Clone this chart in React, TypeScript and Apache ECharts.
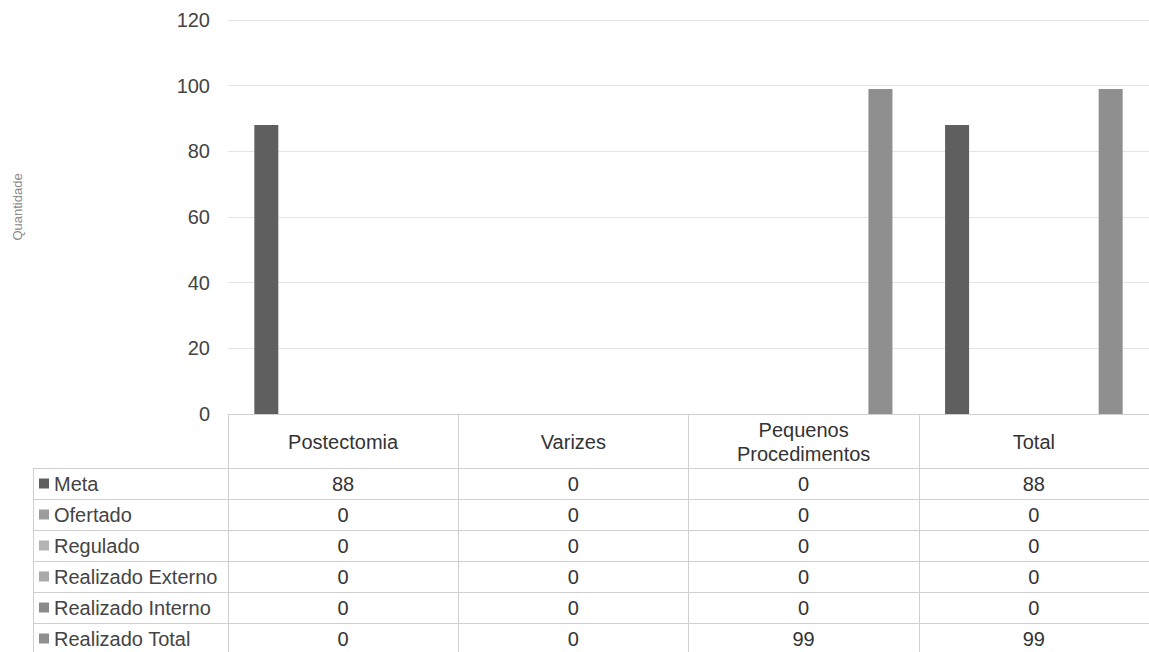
import React, { useEffect, useRef } from "react";
import * as echarts from "echarts";

const categories = ["Postectomia", "Varizes", "Pequenos\nProcedimentos", "Total"];
const seriesNames = ["Meta", "Ofertado", "Regulado", "Realizado Externo", "Realizado Interno", "Realizado Total"];
const meta = [88, 0, 0, 88];
const ofertado = [0, 0, 0, 0];
const regulado = [0, 0, 0, 0];
const realizadoExterno = [0, 0, 0, 0];
const realizadoInterno = [0, 0, 0, 0];
const realizadoTotal = [0, 0, 99, 99];
const seriesValues = [meta, ofertado, regulado, realizadoExterno, realizadoInterno, realizadoTotal];
const seriesColors = ["#5f5f5f", "#9c9c9c", "#b4b4b4", "#aaaaaa", "#8a8a8a", "#8f8f8f"];
const yTicks = { min: 0, max: 120, interval: 20 };

const W = 1149;
const H = 652;
const GRID_LEFT = 228;
const GRID_TOP = 20;
const GRID_BOTTOM = 238;
const AXIS_Y = H - GRID_BOTTOM; // 414
const HEADER_H = 54;
const ROW_H = 31;
const LEGEND_BORDER_X = 33;
const LEGEND_LINE_H = 20;
const FS = 20;
const FONT = "Arial, 'Liberation Sans', sans-serif";
const LINE = "#cfcfcf";

export default function App() {
  const ref = useRef<HTMLDivElement>(null);
  useEffect(() => {
    if (!ref.current) return;
    const chart = echarts.init(ref.current, undefined, { renderer: "svg" });

    const rowAxes = seriesValues.map((vals, i) => ({
      type: "category",
      gridIndex: 0,
      position: "bottom",
      offset: HEADER_H + ROW_H * i,
      data: categories,
      axisLine: { show: true, lineStyle: { color: LINE, width: 1 } },
      axisTick: { show: false },
      axisLabel: {
        interval: 0,
        margin: ROW_H / 2,
        verticalAlign: "middle",
        fontSize: FS,
        fontFamily: FONT,
        color: "#333",
        formatter: (_v: string, idx: number) => String(vals[idx]),
      },
    }));

    const graphicLines: any[] = [];
    for (let i = 0; i < seriesValues.length; i++) {
      const y = AXIS_Y + HEADER_H + ROW_H * i + 0.5;
      graphicLines.push({
        type: "line",
        shape: { x1: LEGEND_BORDER_X, y1: y, x2: GRID_LEFT, y2: y },
        style: { stroke: LINE, lineWidth: 1 },
        silent: true,
      });
    }
    graphicLines.push({
      type: "line",
      shape: { x1: LEGEND_BORDER_X + 0.5, y1: AXIS_Y + HEADER_H, x2: LEGEND_BORDER_X + 0.5, y2: H },
      style: { stroke: LINE, lineWidth: 1 },
      silent: true,
    });

    chart.setOption({
      animation: false,
      backgroundColor: "#ffffff",
      textStyle: { fontFamily: FONT },
      grid: {
        left: GRID_LEFT,
        right: 0,
        top: GRID_TOP,
        bottom: GRID_BOTTOM,
        containLabel: false,
        outerBoundsMode: "none",
      },
      legend: {
        orient: "vertical",
        left: 39,
        top: AXIS_Y + HEADER_H + ROW_H / 2 - LEGEND_LINE_H / 2,
        padding: 0,
        itemWidth: 10,
        itemHeight: 10,
        itemGap: ROW_H - LEGEND_LINE_H,
        icon: "rect",
        selectedMode: false,
        data: seriesNames,
        textStyle: { fontSize: FS, color: "#444", fontFamily: FONT, lineHeight: LEGEND_LINE_H },
      },
      xAxis: [
        {
          type: "category",
          gridIndex: 0,
          position: "bottom",
          data: categories,
          axisLine: { show: true, lineStyle: { color: LINE, width: 1 } },
          axisTick: { show: true, interval: 0, length: GRID_BOTTOM, lineStyle: { color: LINE, width: 1 } },
          axisLabel: {
            interval: 0,
            margin: 28,
            verticalAlign: "middle",
            fontSize: FS,
            lineHeight: 24,
            fontFamily: FONT,
            color: "#333",
          },
        },
        ...rowAxes,
      ],
      yAxis: {
        type: "value",
        min: yTicks.min,
        max: yTicks.max,
        interval: yTicks.interval,
        name: "Quantidade",
        nameLocation: "middle",
        nameGap: 204,
        nameTextStyle: { fontSize: 13, color: "#8a8a8a", fontFamily: FONT, padding: [0, 0, 0, 20] },
        axisLine: { show: false },
        axisTick: { show: false },
        axisLabel: { fontSize: FS, color: "#444", margin: 18, fontFamily: FONT },
        splitLine: { show: true, lineStyle: { color: "#e4e4e4", width: 1 } },
      },
      graphic: graphicLines,
      series: seriesNames.map((name, i) => ({
        name,
        type: "bar",
        xAxisIndex: 0,
        data: seriesValues[i],
        barWidth: 24,
        barGap: "28%",
        itemStyle: { color: seriesColors[i] },
      })),
    });
    return () => chart.dispose();
  }, []);
  return (
    <div
      ref={ref}
      style={{ position: "fixed", left: 0, top: 0, width: W, height: H, background: "#fff" }}
    />
  );
}
